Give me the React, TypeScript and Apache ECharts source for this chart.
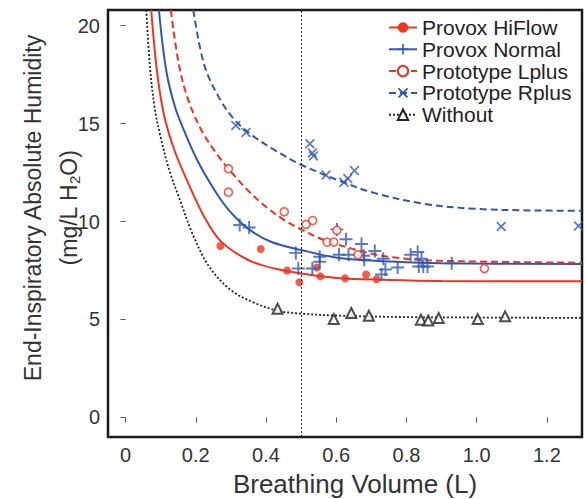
import React, { useEffect, useRef } from "react";
import * as echarts from "echarts";

// ---- tick labels ----
const xTicks = [0, 0.2, 0.4, 0.6, 0.8, 1.0, 1.2];
const xTickLabels = ["0", "0.2", "0.4", "0.6", "0.8", "1.0", "1.2"];
const yTicks = [0, 5, 10, 15, 20];
const yTickLabels = ["0", "5", "10", "15", "20"];

const seriesNames = ["Provox HiFlow", "Provox Normal", "Prototype Lplus", "Prototype Rplus", "Without"];

// ---- measured points ----
const hiflowPts = [
  [0.27, 8.75], [0.385, 8.6], [0.46, 7.5], [0.495, 6.9], [0.545, 7.65],
  [0.555, 7.2], [0.625, 7.1], [0.685, 7.3], [0.715, 7.05],
];
const normalPts = [
  [0.325, 9.82], [0.352, 9.7], [0.485, 8.4], [0.492, 7.6], [0.532, 7.6],
  [0.553, 8.2], [0.553, 7.95], [0.602, 9.6], [0.628, 9.1], [0.608, 8.3],
  [0.635, 8.3], [0.672, 8.85], [0.678, 8.25], [0.68, 8.05], [0.71, 8.5],
  [0.734, 8.1], [0.74, 7.55], [0.729, 7.3], [0.775, 7.65], [0.812, 8.3],
  [0.832, 8.45], [0.843, 8.1], [0.835, 7.7], [0.848, 7.7], [0.86, 7.7], [0.929, 7.87],
];
const lplusPts = [
  [0.293, 12.7], [0.293, 11.5], [0.452, 10.5], [0.514, 9.85], [0.533, 10.05],
  [0.574, 8.95], [0.593, 8.95], [0.602, 9.55], [0.662, 8.3], [1.022, 7.6],
];
const rplusPts = [
  [0.314, 14.9], [0.343, 14.55], [0.525, 13.97], [0.532, 13.5], [0.535, 13.35],
  [0.571, 12.37], [0.622, 12.0], [0.633, 12.2], [0.652, 12.6], [1.07, 9.75], [1.29, 9.77],
];
const withoutPts = [
  [0.433, 5.55], [0.593, 5.02], [0.643, 5.33], [0.693, 5.19], [0.841, 4.99],
  [0.862, 4.95], [0.892, 5.07], [1.003, 5.02], [1.081, 5.16],
];

// ---- fitted curves ----
const hiflowFit = [
  [0.073, 20.8], [0.09, 17.6], [0.11, 15.4], [0.14, 13.6], [0.18, 11.9],
  [0.224, 10.25], [0.271, 9.0], [0.348, 8.05], [0.424, 7.6], [0.5, 7.35], [0.6, 7.12],
  [0.75, 7.02], [0.9, 6.97], [1.3, 6.95],
];
const normalFit = [
  [0.095, 20.8], [0.115, 17.8], [0.14, 15.9], [0.17, 14.5], [0.205, 13.1], [0.243, 11.9],
  [0.29, 10.67], [0.348, 9.65], [0.414, 8.97], [0.5, 8.55], [0.614, 8.12], [0.757, 7.96],
  [0.9, 7.87], [1.3, 7.83],
];
const lplusFit = [
  [0.129, 20.8], [0.15, 18.2], [0.175, 16.4], [0.215, 14.7], [0.26, 13.45], [0.3, 12.55],
  [0.348, 11.6], [0.4, 10.75], [0.45, 10.1], [0.5, 9.6], [0.567, 9.05], [0.68, 8.45],
  [0.757, 8.18], [0.89, 8.0], [1.3, 7.9],
];
const rplusFit = [
  [0.193, 20.8], [0.224, 18.0], [0.267, 16.3], [0.31, 15.2], [0.357, 14.45], [0.42, 13.7],
  [0.5, 12.9], [0.614, 12.05], [0.71, 11.45], [0.852, 10.9], [0.995, 10.65],
  [1.15, 10.57], [1.3, 10.55],
];
const withoutFit = [
  [0.059, 20.8], [0.07, 17.8], [0.083, 15.8], [0.1, 14.3], [0.125, 12.6],
  [0.157, 11.0], [0.19, 9.4], [0.238, 7.7], [0.3, 6.5], [0.367, 5.85], [0.433, 5.45],
  [0.5, 5.3], [0.6, 5.2], [0.8, 5.12], [1.0, 5.1], [1.3, 5.08],
];

const refLineX = 0.5;

const RED = "#f2321f";
const BLUE = "#2f57b3";
const BLACK = "#222222";
const FONT = "'Liberation Sans', Arial, sans-serif";

const PLUS = "path://M5.1,0H6.9V5.1H12V6.9H6.9V12H5.1V6.9H0V5.1H5.1Z";
const CROSS = "path://M0,1.2L1.2,0L5,3.8L8.8,0L10,1.2L6.2,5L10,8.8L8.8,10L5,6.2L1.2,10L0,8.8L3.8,5Z";

export default function App() {
  const ref = useRef<HTMLDivElement>(null);
  useEffect(() => {
    document.body.style.margin = "0";
    const chart = echarts.init(ref.current!, null, { renderer: "svg" });
    const fitLine = (name: string, data: number[][], color: string, type: any, symbol: string, width = 2) => ({
      name,
      type: "line",
      data,
      smooth: 0.35,
      showSymbol: false,
      symbol,
      symbolSize: 10,
      color,
      itemStyle: { color },
      lineStyle: { color, width, type },
      z: 2,
      silent: true,
    });
    const pts = (name: string, data: number[][], symbol: string, size: number, itemStyle: any) => ({
      name,
      type: "scatter",
      data,
      symbol,
      symbolSize: size,
      itemStyle,
      z: 3,
      silent: true,
    });
    const withoutLine: any = fitLine(seriesNames[4], withoutFit, BLACK, [2, 2], "emptyTriangle", 1.8);
    withoutLine.markLine = {
      silent: true,
      symbol: ["none", "none"],
      label: { show: false },
      lineStyle: { color: BLACK, width: 1, type: [2, 2] },
      data: [{ xAxis: refLineX }],
    };
    chart.setOption({
      animation: false,
      textStyle: { fontFamily: FONT },
      grid: {
        left: 108, right: 3, top: 10, bottom: 62,
        show: true, borderColor: "#1a1a1a", borderWidth: 2.5, backgroundColor: "transparent",
      },
      legend: {
        data: seriesNames,
        orient: "vertical",
        left: 383,
        top: 12,
        itemWidth: 28,
        itemHeight: 13,
        itemGap: 0.8,
        textStyle: { fontSize: 21, lineHeight: 20, color: "#222", fontFamily: FONT },
        selectedMode: false,
      },
      xAxis: {
        type: "value",
        min: -0.05,
        max: 1.3,
        axisLine: { show: false },
        splitLine: { show: false },
        axisTick: { show: true, customValues: xTicks, length: 5, lineStyle: { color: "#555", width: 1 } },
        axisLabel: {
          customValues: xTicks,
          margin: 8,
          fontSize: 20,
          color: "#333",
          fontFamily: FONT,
          formatter: (v: number) => {
            const i = xTicks.findIndex((t) => Math.abs(t - v) < 1e-6);
            return i >= 0 ? xTickLabels[i] : "";
          },
        },
      },
      yAxis: {
        type: "value",
        min: -1,
        max: 20.8,
        axisLine: { show: false },
        splitLine: { show: false },
        axisTick: { show: true, customValues: yTicks, length: 5, lineStyle: { color: "#555", width: 1 } },
        axisLabel: {
          customValues: yTicks,
          margin: 8,
          fontSize: 20,
          color: "#333",
          fontFamily: FONT,
          formatter: (v: number) => {
            const i = yTicks.findIndex((t) => Math.abs(t - v) < 1e-6);
            return i >= 0 ? yTickLabels[i] : "";
          },
        },
      },
      graphic: [
        {
          type: "text",
          x: 355,
          y: 484,
          style: {
            text: "Breathing Volume (L)",
            fontSize: 26,
            fontFamily: FONT,
            fill: "#333",
            align: "center",
            verticalAlign: "middle",
          },
        },
        {
          type: "text",
          x: 51,
          y: 208,
          rotation: Math.PI / 2,
          style: {
            text: "{a|End-Inspiratory Absolute Humidity}\n{a|(mg/L H}{s|2}{a|O)}",
            align: "center",
            verticalAlign: "middle",
            fill: "#333",
            rich: {
              a: { fontSize: 23, lineHeight: 36, fontFamily: FONT, fill: "#333" },
              s: { fontSize: 15, lineHeight: 18, fontFamily: FONT, fill: "#333", padding: [10, 0, 0, 0] },
            },
          },
        },
      ],
      series: [
        fitLine(seriesNames[0], hiflowFit, RED, "solid", "circle"),
        fitLine(seriesNames[1], normalFit, BLUE, "solid", PLUS),
        fitLine(seriesNames[2], lplusFit, RED, [7, 4], "emptyCircle"),
        fitLine(seriesNames[3], rplusFit, BLUE, [7, 4], CROSS),
        withoutLine,
        pts(seriesNames[0], hiflowPts, "circle", 8, { color: RED }),
        pts(seriesNames[1], normalPts, PLUS, 13, { color: BLUE }),
        pts(seriesNames[2], lplusPts, "circle", 8, { color: "#fff", borderColor: RED, borderWidth: 1.6 }),
        pts(seriesNames[3], rplusPts, CROSS, 10, { color: BLUE }),
        pts(seriesNames[4], withoutPts, "triangle", 10, { color: "#fff", borderColor: BLACK, borderWidth: 2 }),
      ],
    });
    return () => chart.dispose();
  }, []);
  return <div ref={ref} style={{ width: 585, height: 499 }} />;
}
